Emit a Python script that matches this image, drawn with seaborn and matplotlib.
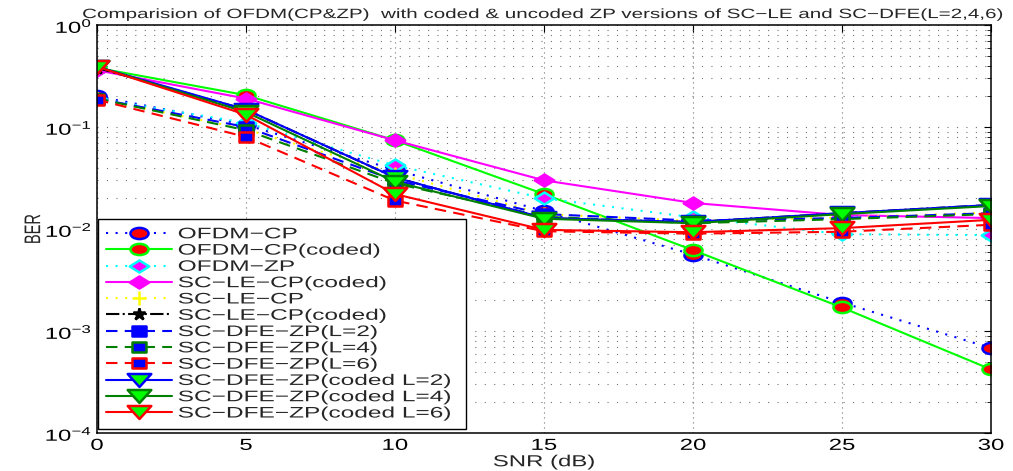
import numpy as np
import pandas as pd
import matplotlib
matplotlib.use("Agg")
import matplotlib.pyplot as plt
import seaborn as sns
from matplotlib.path import Path
from matplotlib.patheffects import AbstractPathEffect
from matplotlib.transforms import Affine2D
from matplotlib.ticker import LogLocator, NullFormatter

# ---------------- data ----------------
snr = [0, 5, 10, 15, 20, 25, 30]
ofdm_cp        = [0.20, 0.105, 0.038, 0.015, 0.0056, 0.0019, 0.00068]
ofdm_cp_coded  = [0.38, 0.205, 0.074, 0.022, 0.0062, 0.0017, 0.00042]
ofdm_zp        = [0.19, 0.11, 0.042, 0.020, 0.013, 0.0089, 0.0087]
sc_le_cp_coded = [0.36, 0.19, 0.074, 0.030, 0.018, 0.0137, 0.0128]
sc_le_cp       = [0.19, 0.095, 0.035, 0.014, 0.012, 0.013, 0.0145]
sc_le_cp_coded_b = [0.38, 0.148, 0.032, 0.0128, 0.0117, 0.0143, 0.0172]
dfe_l2         = [0.19, 0.100, 0.030, 0.0140, 0.0121, 0.0128, 0.0143]
dfe_l4         = [0.19, 0.093, 0.028, 0.0132, 0.0114, 0.0125, 0.0140]
dfe_l6         = [0.185, 0.080, 0.019, 0.0095, 0.0090, 0.0094, 0.0110]
dfe_l2_coded   = [0.39, 0.148, 0.032, 0.0128, 0.0117, 0.0143, 0.0172]
dfe_l4_coded   = [0.39, 0.140, 0.029, 0.0126, 0.0114, 0.0140, 0.0168]
dfe_l6_coded   = [0.39, 0.132, 0.022, 0.0098, 0.0093, 0.0102, 0.0123]

labels = ["OFDM−CP", "OFDM−CP(coded)", "OFDM−ZP", "SC−LE−CP(coded)", "SC−LE−CP",
          "SC−LE−CP(coded)", "SC−DFE−ZP(L=2)", "SC−DFE−ZP(L=4)", "SC−DFE−ZP(L=6)",
          "SC−DFE−ZP(coded L=2)", "SC−DFE−ZP(coded L=4)", "SC−DFE−ZP(coded L=6)"]
series = [ofdm_cp, ofdm_cp_coded, ofdm_zp, sc_le_cp_coded, sc_le_cp, sc_le_cp_coded_b,
          dfe_l2, dfe_l4, dfe_l6, dfe_l2_coded, dfe_l4_coded, dfe_l6_coded]
x_ticks = [0, 5, 10, 15, 20, 25, 30]
title_text = "Comparision of OFDM(CP&ZP)  with coded & uncoded ZP versions of SC−LE and SC−DFE(L=2,4,6)"

# ---------------- style ----------------
sns.set_theme(style="white")
plt.rcParams["font.family"] = ["Liberation Sans", "DejaVu Sans"]
plt.rcParams["mathtext.fontset"] = "custom"
plt.rcParams["mathtext.rm"] = "Liberation Sans"
plt.rcParams["mathtext.it"] = "Liberation Sans:italic"
plt.rcParams["mathtext.bf"] = "Liberation Sans:bold"
plt.rcParams["axes.unicode_minus"] = True

ASP = 0.62  # the reference image is stretched horizontally


class Stretch(AbstractPathEffect):
    """Draw text glyphs stretched (sx along the text, sy across it)."""
    def __init__(self, sx=1.0, anchor="left", sy=1.0):
        super().__init__((0.0, 0.0))
        self.sx = sx
        self.sy = sy
        self.anchor = anchor

    def draw_path(self, renderer, gc, tpath, affine, rgbFace=None):
        ext = tpath.get_extents()
        if self.anchor == "left":
            cx = ext.x0
        elif self.anchor == "right":
            cx = ext.x1
        else:
            cx = 0.5 * (ext.x0 + ext.x1)
        cy = 0.5 * (ext.y0 + ext.y1)
        pre = (Affine2D().translate(-cx, -cy).scale(self.sx, self.sy)
               .translate(cx, cy))
        renderer.draw_path(gc, tpath, pre + affine, rgbFace)


def ellipse_marker():
    c = Path.unit_circle()
    return Path(c.vertices * np.array([1.0, ASP]), c.codes)


def poly_marker(pts):
    pts = np.array(pts + [pts[0]], dtype=float)
    codes = [Path.MOVETO] + [Path.LINETO] * (len(pts) - 2) + [Path.CLOSEPOLY]
    return Path(pts, codes)


M_CIRC = ellipse_marker()
M_DIAM = poly_marker([(0, ASP), (1, 0), (0, -ASP), (-1, 0)])
M_SQR = poly_marker([(-1, ASP), (1, ASP), (1, -ASP), (-1, -ASP)])
M_TRI = poly_marker([(-1, 0.55), (1, 0.55), (0, -0.55)])

LIME = "#00ff00"
DKG = "#008000"
DOT = (0, (1.0, 3.6))
DASH = (0, (5.5, 3.5))

styles = [
    dict(color="blue", ls=DOT, marker=M_CIRC, ms=13, mfc="red", mec="blue"),
    dict(color=LIME, ls="-", marker=M_CIRC, ms=13, mfc="red", mec=LIME),
    dict(color="cyan", ls=DOT, marker=M_DIAM, ms=14, mfc="magenta", mec="cyan"),
    dict(color="magenta", ls="-", marker=M_DIAM, ms=14, mfc="magenta", mec="magenta"),
    dict(color="yellow", ls=DOT, marker="+", ms=10, mfc="yellow", mec="yellow"),
    dict(color="black", ls="-.", marker="*", ms=9, mfc="black", mec="black"),
    dict(color="blue", ls=DASH, marker=M_SQR, ms=10.5, mfc="blue", mec="blue"),
    dict(color=DKG, ls=DASH, marker=M_SQR, ms=10.5, mfc="blue", mec=DKG),
    dict(color="red", ls=DASH, marker=M_SQR, ms=10.5, mfc="blue", mec="red"),
    dict(color="blue", ls="-", marker=M_TRI, ms=17, mfc=LIME, mec="blue"),
    dict(color=DKG, ls="-", marker=M_TRI, ms=17, mfc=LIME, mec=DKG),
    dict(color="red", ls="-", marker=M_TRI, ms=17, mfc=LIME, mec="red"),
]

fig = plt.figure(figsize=(10.13, 4.71), dpi=100)
ax = fig.add_axes([97 / 1013, 1 - 433 / 471, 894 / 1013, 408 / 471])
ax.set_yscale("log")

for vals, lab, st in zip(series, labels, styles):
    df = pd.DataFrame({"SNR": snr, "BER": vals})
    sns.lineplot(data=df, x="SNR", y="BER", ax=ax, label=lab,
                 color=st["color"], linestyle=st["ls"], linewidth=1.5,
                 marker=st["marker"], markersize=st["ms"],
                 markerfacecolor=st["mfc"], markeredgecolor=st["mec"],
                 markeredgewidth=1.8, legend=False)

ax.set_xlim(0, 30)
ax.set_ylim(1e-4, 1)
ax.set_xticks(x_ticks)
ax.set_yticks([1e-4, 1e-3, 1e-2, 1e-1, 1])
ax.yaxis.set_minor_locator(LogLocator(base=10, subs=np.arange(2, 10)))
ax.yaxis.set_minor_formatter(NullFormatter())

for s in ax.spines.values():
    s.set_color("black")
    s.set_linewidth(1.1)
ax.tick_params(axis="both", which="both", direction="in", top=True, right=True,
               colors="black", labelsize=11.5)
ax.tick_params(which="major", length=5, width=0.8)
ax.tick_params(which="minor", length=3, width=0.6)
ax.tick_params(axis="x", which="minor", bottom=False, top=False)
ax.set_axisbelow(True)
ax.yaxis.grid(True, which="both", linestyle=(0, (1, 7.5)), color="0.45", linewidth=0.8)
ax.xaxis.grid(True, which="major", linestyle=(0, (1, 3.5)), color="0.45", linewidth=0.8)

ax.set_xlabel("SNR (dB)", fontsize=11.5, labelpad=1)
ax.set_ylabel("BER", fontsize=10.5, labelpad=14)
ax.set_title(title_text, fontsize=9.7, pad=5)

leg = ax.legend(loc="lower left", bbox_to_anchor=(0.001, 0.01, 0.412, 0.5),
                mode="expand", borderaxespad=0, fontsize=11, frameon=True,
                fancybox=False, framealpha=1, edgecolor="black",
                handlelength=4.3, handletextpad=0.4, labelspacing=0.15,
                borderpad=0.55, numpoints=1)
leg.get_frame().set_linewidth(1.0)

for t in leg.get_texts():
    t.set_path_effects([Stretch(1.6, "left")])
for t in ax.get_xticklabels():
    t.set_path_effects([Stretch(1.5, "center")])
for t in ax.get_yticklabels():
    t.set_path_effects([Stretch(1.5, "right")])
ax.title.set_path_effects([Stretch(1.53, "center")])
ax.xaxis.label.set_path_effects([Stretch(1.5, "center")])
ax.yaxis.label.set_path_effects([Stretch(1.0, "center", sy=1.55)])

fig.savefig("out.png", dpi=100)
